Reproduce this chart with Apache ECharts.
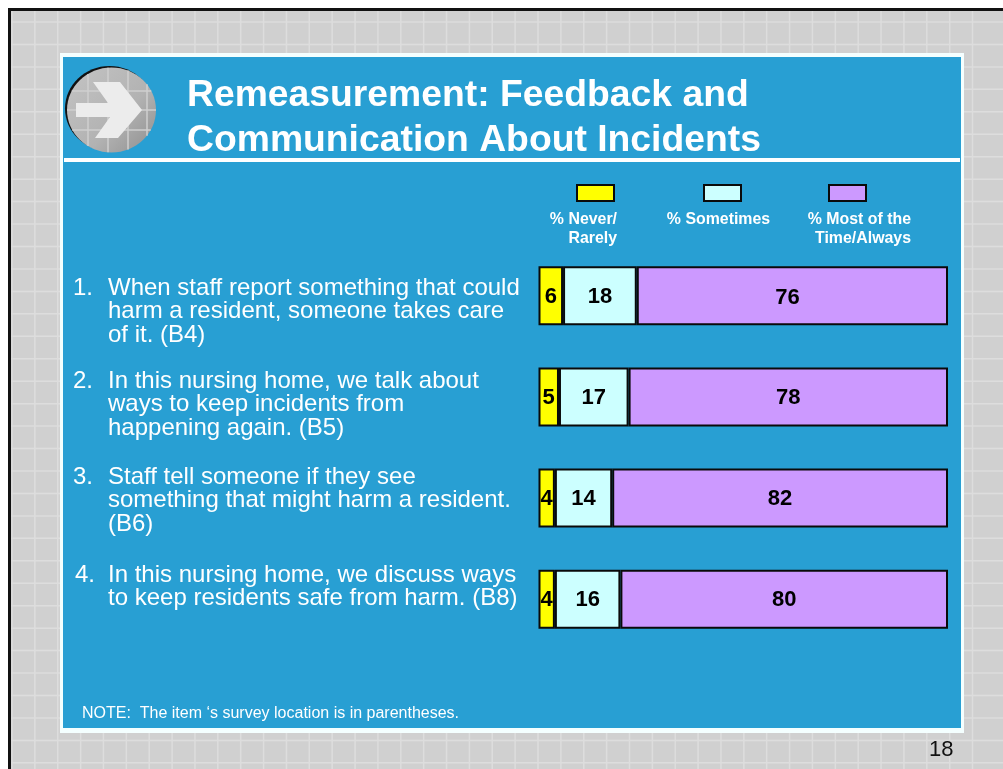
<!DOCTYPE html>
<html><head><meta charset="utf-8">
<style>html,body{margin:0;padding:0;background:#fff}#c{width:1003px;height:769px}</style>
<script src="https://cdn.jsdelivr.net/npm/echarts@6/dist/echarts.min.js"></script>
</head><body><div id="c"></div>
<script>
const categories = ['B4','B5','B6','B8'];
const seriesNames = ['% Never/Rarely','% Sometimes','% Most of the Time/Always'];
const neverRarely = [6,5,4,4];
const sometimes = [18,17,14,16];
const mostAlways = [76,78,82,80];
const colors = ['#ffff00','#ccffff','#cc99ff'];
const titleLines = ['Remeasurement: Feedback and','Communication About Incidents'];
const note = 'NOTE:  The item ‘s survey location is in parentheses.';
const pageNumber = '18';
const legendLabels = [['% Never/','Rarely'],['% Sometimes'],['% Most of the','Time/Always']];
const itemNumbers = ['1.','2.','3.','4.'];
const itemLines = [
 ['When staff report something that could','harm a resident, someone takes care','of it. (B4)'],
 ['In this nursing home, we talk about','ways to keep incidents from','happening again. (B5)'],
 ['Staff tell someone if they see','something that might harm a resident.','(B6)'],
 ['In this nursing home, we discuss ways','to keep residents safe from harm. (B8)']
];
const FONT = 'Liberation Sans';
const txt=(text,x,y,size,opts)=>({type:'text',z:5,style:Object.assign({text,x,y,fontFamily:FONT,fontSize:size,fill:'#fff',verticalAlign:'middle'},opts||{})});
const g = [];
g.push({type:'rect',z:-10,shape:{x:0,y:0,width:1003,height:769},style:{fill:'#ffffff'}});
g.push({type:'rect',z:-10,shape:{x:11,y:11,width:992,height:758},style:{fill:'#d0d0d0'}});
for(let i=0;i<43;i++){const x=12+i*22.87;g.push({type:'rect',z:-9,shape:{x:x-0.75,y:11,width:1.5,height:758},style:{fill:'#dddddd'}});}
for(let j=0;j<34;j++){const y=22+j*22.45;g.push({type:'rect',z:-9,shape:{x:11,y:y-0.75,width:992,height:1.5},style:{fill:'#dddddd'}});}
g.push({type:'rect',z:-8,shape:{x:9.5,y:9.5,width:1100,height:900},style:{fill:'none',stroke:'#111',lineWidth:3}});
g.push({type:'rect',z:-7,shape:{x:60,y:53,width:904,height:680},style:{fill:'#f4ffff'}});
g.push({type:'rect',z:-7,shape:{x:63,y:57,width:898,height:671},style:{fill:'#289fd3'}});
g.push({type:'rect',z:-6,shape:{x:64,y:158,width:896,height:4},style:{fill:'#ffffff'}});
const cx=111.5,cy=110,rx=44.5,ry=42.5;
g.push({type:'ellipse',z:-6,shape:{cx:cx-2,cy:cy-1.5,rx:rx,ry:ry},style:{fill:'#111'}});
g.push({type:'ellipse',z:-5,shape:{cx,cy,rx,ry},style:{fill:{type:'linear',x:0,y:0,x2:1,y2:1,colorStops:[{offset:0,color:'#c4c4c4'},{offset:.6,color:'#b2b2b2'},{offset:1,color:'#8e8e8e'}]}}});
[88,108,128,147].forEach(x=>{const h=ry*Math.sqrt(1-((x-cx)/rx)**2);g.push({type:'rect',z:-5,shape:{x:x-.75,y:cy-h,width:1.5,height:2*h},style:{fill:'#cfcfcf'}});});
[91,110,130].forEach(y=>{const h=rx*Math.sqrt(1-((y-cy)/ry)**2);g.push({type:'rect',z:-5,shape:{x:cx-h,y:y-.75,width:2*h,height:1.5},style:{fill:'#cfcfcf'}});});
g.push({type:'polygon',z:-4,shape:{points:[[93,82],[120,82],[142,110],[118,138],[95,138],[110,117],[76,117],[76,103],[108,103]]},style:{fill:'#ececec'}});
titleLines.forEach((t,i)=>g.push(txt(t,187,96+i*45,37.3,{fontWeight:'bold'})));
const legendRight=[617,0,911];
legendLabels.forEach((ls,k)=>ls.forEach((t,i)=>g.push(k===1?txt(t,718.5,220,15.9,{align:'center',fontWeight:'bold'}):txt(t,legendRight[k],220+i*19,15.9,{align:'right',fontWeight:'bold'}))));
const firstY=[288,381,477,575], lineGap=23.6, numX=[73,73,73,75];
itemLines.forEach((ls,k)=>{
 g.push(txt(itemNumbers[k],numX[k],firstY[k],24));
 ls.forEach((t,i)=>g.push(txt(t,108,firstY[k]+i*lineGap,24)));
});
g.push(txt(note,82,714,16));
g.push(txt(pageNumber,929,750,22,{fill:'#111'}));

const vals=[neverRarely,sometimes,mostAlways];
const legendLeft=[576,703,828];
const labelNudge=[-5,2];
const chart=echarts.init(document.getElementById('c'),null,{renderer:'canvas'});
chart.setOption({
 animation:false,
 backgroundColor:'transparent',
 graphic:{elements:g},
 grid:{left:538.5,top:245.1,width:409.5,height:404.8},
 xAxis:{type:'value',min:0,max:100,show:false},
 yAxis:{type:'category',data:categories,inverse:true,show:false},
 legend:seriesNames.map((n,i)=>({data:[{name:n,icon:'rect'}],left:legendLeft[i],top:184,itemWidth:37,itemHeight:16,itemGap:0,selectedMode:false,formatter:()=>'',textStyle:{fontSize:1,color:'transparent'},padding:0})),
 series:seriesNames.map((n,i)=>({
  name:n,type:'bar',stack:'total',barWidth:59,
  data:vals[i].map((v,k)=>(i===2&&k===0)?{value:v,label:{offset:labelNudge}}:v),
  itemStyle:{color:colors[i],borderColor:'#0a0a0a',borderWidth:2},
  label:{show:true,position:'inside',color:'#000',fontFamily:FONT,fontWeight:'bold',fontSize:22,formatter:'{c}',offset:[0,1]}
 }))
});
</script></body></html>
